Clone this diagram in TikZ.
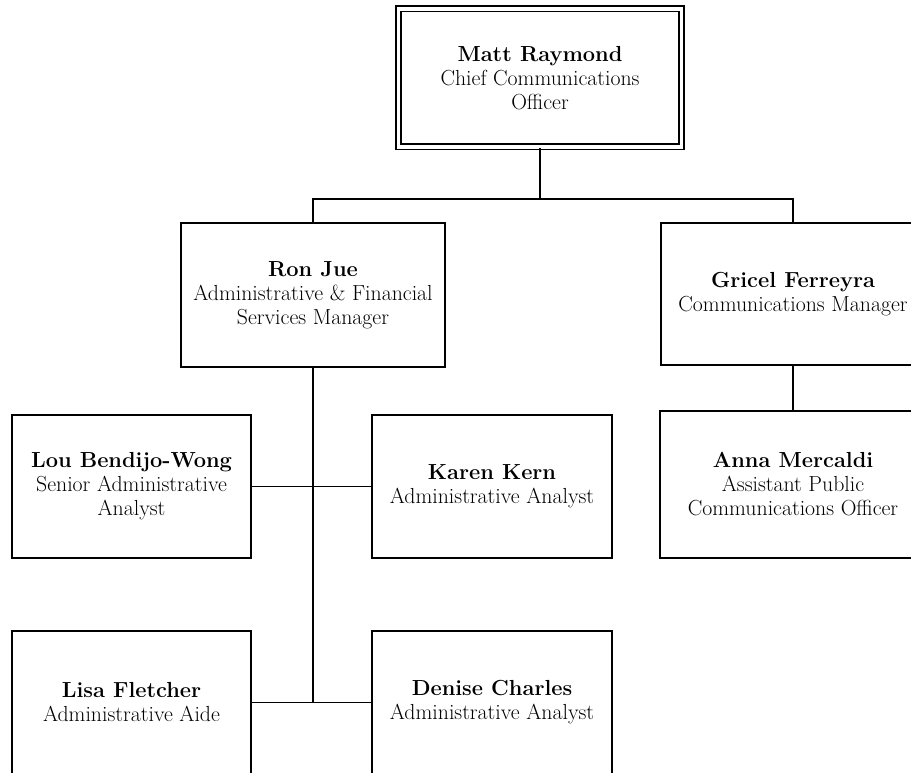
\documentclass[tikz,border=0pt]{standalone}
\usepackage{tikz}
\usetikzlibrary{calc,positioning}

\begin{document}
\begin{tikzpicture}[x=1pt,y=-1pt,
  box/.style={draw, line width=1.7pt, rectangle, inner sep=0pt, align=center,
    font=\fontsize{21.8}{24}\selectfont},
  staff/.style={box, minimum width=239pt, minimum height=143pt},
  mgr/.style={box, minimum width=264pt, minimum height=144pt},
  link/.style={line width=1.7pt}]
\clip (0,0) rectangle (911,773);

\node[box, double, double distance=3.6pt, minimum width=283pt, minimum height=138pt]
  (matt) at (540,78) {\textbf{Matt Raymond}\\Chief Communications\\Officer};

\node[mgr] (ron) at (313,295) {\textbf{Ron Jue}\\Administrative \& Financial\\Services Manager};
\node[mgr, minimum height=142pt] (gricel) at (793,294) {\textbf{Gricel Ferreyra}\\Communications Manager};

\node[staff] (lou) at (131.5,486.5) {\textbf{Lou Bendijo-Wong}\\Senior Administrative\\Analyst};
\node[staff, minimum width=240pt] (karen) at (492,486.5) {\textbf{Karen Kern}\\Administrative Analyst};
\node[staff, minimum width=266pt, minimum height=147pt] (anna) at (793,484.5) {\textbf{Anna Mercaldi}\\Assistant Public\\Communications Officer};

\node[staff] (lisa) at (131.5,702.5) {\textbf{Lisa Fletcher}\\Administrative Aide};
\node[staff, minimum width=240pt] (denise) at (492,702.5) {\textbf{Denise Charles}\\Administrative Analyst};

% connectors
\coordinate (bus) at (540,199);
\draw[link] (matt.south) -- (bus);
\draw[link] (bus) -| (ron.north);
\draw[link] (bus) -| (gricel.north);
\draw[link] (gricel.south) -- (anna.north);

\coordinate (trunk) at (ron.south |- lisa.east);
\draw[link] (ron.south) -- (trunk);
\draw[link] (lou.east) -- (karen.west);
\draw[link] (lisa.east) -- (denise.west);
\end{tikzpicture}
\end{document}
